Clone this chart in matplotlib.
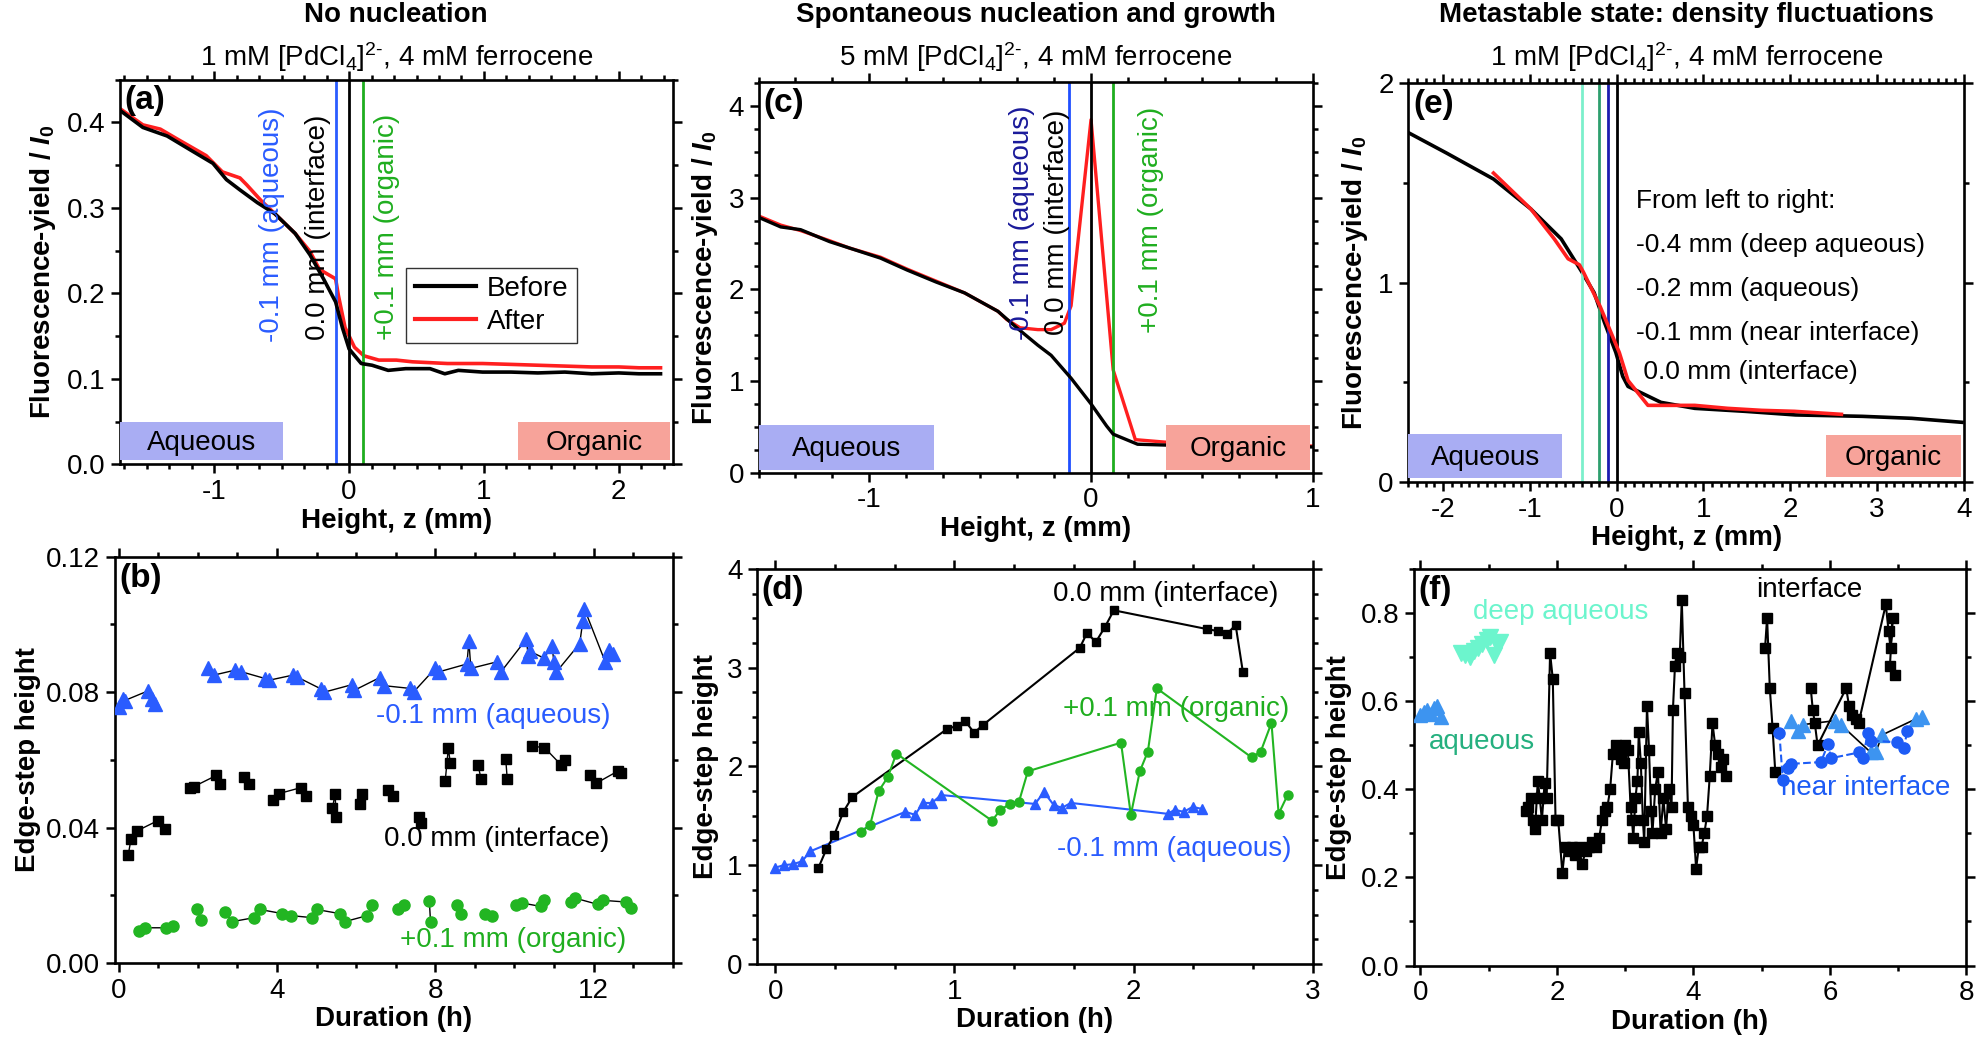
import matplotlib
matplotlib.use("Agg")
import matplotlib.pyplot as plt
import numpy as np
from matplotlib.ticker import MultipleLocator, AutoMinorLocator
from matplotlib.patches import Rectangle

plt.rcParams['font.family'] = ['Liberation Sans', 'DejaVu Sans']
plt.rcParams['mathtext.fontset'] = 'custom'
plt.rcParams['mathtext.rm'] = 'Liberation Sans'
plt.rcParams['mathtext.it'] = 'Liberation Sans:italic'
plt.rcParams['mathtext.bf'] = 'Liberation Sans:bold'
plt.rcParams['mathtext.bfit'] = 'Liberation Sans:bold:italic'
plt.rcParams['axes.unicode_minus'] = False

# ---- (a) no nucleation, profiles
a_z_before = [-1.70, -1.53, -1.35, -1.17, -1.01, -0.91, -0.81, -0.68, -0.55, -0.40, -0.29, -0.19, -0.10, -0.05,
              0.00, 0.09, 0.17, 0.29, 0.42, 0.60, 0.71, 0.81, 0.99, 1.2, 1.4, 1.6, 1.8, 2.0, 2.15, 2.31]
a_y_before = [0.414, 0.394, 0.384, 0.367, 0.352, 0.333, 0.321, 0.306, 0.293, 0.270, 0.245, 0.217, 0.190, 0.160,
              0.135, 0.118, 0.116, 0.110, 0.112, 0.112, 0.106, 0.110, 0.108, 0.108, 0.107, 0.108, 0.106, 0.107, 0.106, 0.106]
a_z_after = [-1.70, -1.53, -1.40, -1.27, -1.06, -0.94, -0.81, -0.76, -0.65, -0.55, -0.40, -0.29, -0.22, -0.10, -0.08,
             -0.03, 0.04, 0.11, 0.22, 0.35, 0.47, 0.73, 0.99, 1.2, 1.4, 1.6, 1.8, 2.0, 2.15, 2.31]
a_y_after = [0.416, 0.397, 0.392, 0.380, 0.361, 0.342, 0.335, 0.327, 0.308, 0.293, 0.270, 0.249, 0.228, 0.217, 0.198,
             0.160, 0.137, 0.127, 0.122, 0.122, 0.120, 0.118, 0.118, 0.117, 0.116, 0.115, 0.114, 0.114, 0.113, 0.113]

# ---- (b) edge-step height vs time
b_aq_t = [0.0, 0.1, 0.15, 0.75, 0.85, 0.92, 2.25, 2.4, 2.95, 3.1, 3.7, 3.8, 4.4, 4.5, 5.1, 5.2, 5.9, 5.95, 6.6, 6.7,
          7.35, 7.45, 8.0, 8.1, 8.8, 8.85, 8.9, 9.55, 9.65, 10.3, 10.35, 10.4, 10.75, 10.95, 11.0, 11.05, 11.65,
          11.73, 11.77, 12.3, 12.4, 12.5]
b_aq_y = [0.0755, 0.078, 0.0775, 0.0804, 0.0780, 0.0765, 0.087, 0.085, 0.0865, 0.0860, 0.084, 0.0835, 0.085, 0.0845,
          0.081, 0.080, 0.0822, 0.0805, 0.0843, 0.0819, 0.0811, 0.0800, 0.087, 0.0860, 0.0883, 0.095, 0.0870, 0.0889,
          0.0858, 0.0956, 0.0908, 0.092, 0.090, 0.0937, 0.0888, 0.0858, 0.0943, 0.101, 0.1046, 0.0888, 0.0925, 0.0913]
b_int_t = [0.24, 0.31, 0.46, 0.98, 1.16, 1.81, 1.9, 2.47, 2.56, 3.17, 3.3, 3.91, 4.04, 4.61, 4.74, 5.4, 5.47, 5.49,
           6.1, 6.15, 6.8, 6.93, 7.59, 7.63, 8.25, 8.33, 8.38, 9.08, 9.16, 9.78, 9.82, 10.45, 10.76, 11.18, 11.27,
           11.9, 12.07, 12.62, 12.7]
b_int_y = [0.0319, 0.0366, 0.039, 0.042, 0.0396, 0.0518, 0.0521, 0.0554, 0.053, 0.0548, 0.053, 0.0481, 0.050,
           0.0518, 0.0493, 0.0457, 0.050, 0.0432, 0.0469, 0.050, 0.0512, 0.0493, 0.0432, 0.0414, 0.0536, 0.0634,
           0.0591, 0.0585, 0.0542, 0.0603, 0.0542, 0.064, 0.0636, 0.0585, 0.0598, 0.0555, 0.0531, 0.0567, 0.0561]
b_org_t = [0.5, 0.67, 1.2, 1.37, 1.99, 2.07, 2.69, 2.86, 3.43, 3.57, 4.13, 4.35, 4.88, 5.0, 5.58, 5.71, 6.28, 6.41,
           7.06, 7.2, 7.85, 7.88, 8.55, 8.64, 9.25, 9.43, 10.04, 10.2, 10.67, 10.76, 11.43, 11.52, 12.11, 12.24,
           12.83, 12.95]
b_org_y = [0.0095, 0.0104, 0.0104, 0.011, 0.0158, 0.0128, 0.0152, 0.0122, 0.0134, 0.0158, 0.0146, 0.014, 0.0134,
           0.0158, 0.0146, 0.0122, 0.014, 0.0171, 0.0158, 0.0171, 0.0183, 0.0122, 0.0171, 0.0146, 0.0146, 0.014,
           0.0171, 0.0177, 0.0167, 0.0185, 0.018, 0.0192, 0.0173, 0.0185, 0.018, 0.0161]

# ---- (c) spontaneous nucleation, profiles
c_z_before = [-1.5, -1.40, -1.31, -1.18, -1.09, -0.95, -0.83, -0.70, -0.57, -0.42, -0.33, -0.24, -0.18, -0.09,
              0.0, 0.07, 0.10, 0.21, 0.35, 0.6, 0.8, 1.0]
c_y_before = [2.785, 2.68, 2.65, 2.52, 2.45, 2.34, 2.21, 2.08, 1.96, 1.76, 1.57, 1.39, 1.28, 1.03,
              0.75, 0.51, 0.42, 0.31, 0.30, 0.30, 0.29, 0.28]
c_z_after = [-1.5, -1.40, -1.31, -1.18, -1.09, -0.95, -0.83, -0.70, -0.57, -0.42, -0.38, -0.32, -0.24, -0.18,
             -0.12, -0.09, 0.0, 0.1, 0.2, 0.35, 0.6, 0.8, 1.0]
c_y_after = [2.80, 2.70, 2.64, 2.53, 2.45, 2.35, 2.22, 2.09, 1.96, 1.76, 1.67, 1.58, 1.56, 1.56,
             1.63, 1.82, 3.85, 1.12, 0.36, 0.33, 0.31, 0.30, 0.29]

# ---- (d) edge-step height vs time
d_int_t = [0.24, 0.285, 0.33, 0.38, 0.43, 0.96, 1.015, 1.06, 1.11, 1.16, 1.70, 1.74, 1.79, 1.84, 1.89,
           2.41, 2.47, 2.52, 2.57, 2.61]
d_int_y = [0.97, 1.16, 1.31, 1.54, 1.69, 2.38, 2.41, 2.46, 2.34, 2.42, 3.20, 3.35, 3.26, 3.41, 3.58,
           3.39, 3.37, 3.34, 3.43, 2.96]
d_org_t = [0.48, 0.53, 0.577, 0.628, 0.676, 1.21, 1.257, 1.31, 1.36, 1.41, 1.93, 1.985, 2.035, 2.08, 2.13,
           2.66, 2.71, 2.77, 2.81, 2.86]
d_org_y = [1.34, 1.41, 1.75, 1.89, 2.13, 1.45, 1.56, 1.62, 1.64, 1.95, 2.24, 1.51, 1.95, 2.15, 2.79,
           2.09, 2.15, 2.44, 1.52, 1.71]
d_aq_t = [0.0, 0.047, 0.10, 0.15, 0.195, 0.726, 0.78, 0.825, 0.875, 0.925, 1.45, 1.50, 1.554, 1.60, 1.65,
          2.19, 2.23, 2.28, 2.33, 2.38]
d_aq_y = [0.975, 1.0, 1.01, 1.04, 1.14, 1.54, 1.51, 1.63, 1.63, 1.71, 1.62, 1.74, 1.61, 1.58, 1.63,
          1.52, 1.56, 1.54, 1.59, 1.57]

# ---- (e) metastable, profiles
e_z_before = [-2.39, -1.96, -1.42, -0.99, -0.64, -0.41, -0.26, -0.14, -0.01, 0.07, 0.13, 0.32, 0.51, 0.90,
              1.48, 2.06, 2.83, 3.40, 3.98]
e_y_before = [1.75, 1.65, 1.52, 1.37, 1.22, 1.06, 0.95, 0.80, 0.65, 0.53, 0.48, 0.44, 0.40, 0.37,
              0.355, 0.337, 0.33, 0.32, 0.30]
e_z_after = [-1.42, -0.99, -0.72, -0.56, -0.43, -0.38, -0.19, 0.03, 0.13, 0.36, 0.59, 0.90, 1.28, 1.67, 2.05, 2.59]
e_y_after = [1.55, 1.37, 1.22, 1.12, 1.09, 1.05, 0.88, 0.65, 0.51, 0.385, 0.385, 0.385, 0.37, 0.36, 0.355, 0.34]

# ---- (f) edge-step height vs time
f_aq_t = [0.0, 0.05, 0.1, 0.15, 0.2, 0.25, 0.3]
f_aq_y = [0.57, 0.575, 0.58, 0.572, 0.585, 0.59, 0.565]
f_deep_t = [0.6, 0.65, 0.72, 0.78, 0.85, 0.9, 0.97, 1.02, 1.08, 1.12, 1.16]
f_deep_y = [0.71, 0.705, 0.70, 0.715, 0.72, 0.73, 0.74, 0.745, 0.705, 0.73, 0.735]
f_int_t = [1.55, 1.58, 1.62, 1.65, 1.68, 1.72, 1.75, 1.78, 1.82, 1.85, 1.90, 1.94, 1.98, 2.02, 2.08, 2.12, 2.17,
           2.22, 2.27, 2.32, 2.37, 2.42, 2.47, 2.52, 2.57, 2.62, 2.66, 2.70, 2.74, 2.78, 2.82, 2.86, 2.90, 2.94,
           2.98, 3.00, 3.04, 3.08, 3.10, 3.12, 3.15, 3.18, 3.20, 3.23, 3.26, 3.28, 3.32, 3.35, 3.38, 3.40, 3.44,
           3.48, 3.52, 3.56, 3.60, 3.64, 3.68, 3.70, 3.73, 3.76, 3.80, 3.83, 3.87, 3.92, 3.96, 4.00, 4.04, 4.08,
           4.12, 4.16, 4.20, 4.24, 4.28, 4.32, 4.36, 4.40, 4.44, 4.48,
           5.05, 5.08, 5.12, 5.16, 5.20, 5.72, 5.75, 5.78, 5.82, 6.24, 6.28, 6.32, 6.38, 6.42, 6.82, 6.86, 6.89,
           6.92, 6.88, 6.95]
f_int_y = [0.35, 0.36, 0.38, 0.33, 0.31, 0.42, 0.38, 0.33, 0.415, 0.38, 0.71, 0.65, 0.33, 0.33, 0.21, 0.27, 0.26,
           0.27, 0.25, 0.27, 0.23, 0.26, 0.27, 0.28, 0.27, 0.29, 0.33, 0.35, 0.36, 0.40, 0.48, 0.50, 0.49, 0.47,
           0.46, 0.50, 0.49, 0.36, 0.33, 0.29, 0.38, 0.42, 0.53, 0.46, 0.33, 0.28, 0.59, 0.49, 0.35, 0.30, 0.40,
           0.44, 0.30, 0.38, 0.31, 0.40, 0.36, 0.58, 0.68, 0.71, 0.70, 0.83, 0.62, 0.36, 0.34, 0.32, 0.22, 0.27,
           0.27, 0.30, 0.34, 0.43, 0.55, 0.50, 0.48, 0.45, 0.47, 0.43,
           0.72, 0.79, 0.63, 0.54, 0.44, 0.63, 0.58, 0.55, 0.50, 0.63, 0.59, 0.57, 0.56, 0.55, 0.82, 0.76, 0.72,
           0.79, 0.68, 0.66]
f_near_t = [5.26, 5.31, 5.39, 5.43, 5.87, 5.97, 6.02, 6.43, 6.48, 6.56, 6.60, 6.99, 7.09, 7.13]
f_near_y = [0.529, 0.422, 0.449, 0.458, 0.462, 0.502, 0.471, 0.484, 0.471, 0.529, 0.511, 0.507, 0.493, 0.533]
f_aq2_t = [5.43, 5.53, 5.60, 6.07, 6.16, 6.60, 6.67, 6.77, 7.26, 7.35]
f_aq2_y = [0.556, 0.533, 0.547, 0.556, 0.547, 0.484, 0.484, 0.524, 0.56, 0.564]

BLUE = '#2a5cff'
GREEN = '#1fae1f'
RED = '#ff1f1f'
AQ_BOX = '#a9adf3'
ORG_BOX = '#f7a39a'
FS = 20


def style_axes(ax):
    for s in ax.spines.values():
        s.set_linewidth(1.9)
    ax.tick_params(which='both', direction='out', top=True, right=True,
                   labeltop=False, labelright=False, width=1.8, labelsize=FS, pad=4)
    ax.tick_params(which='major', length=6.5)
    ax.tick_params(which='minor', length=3.5)


def region_box(ax, x0, x1, y0, y1, color, label):
    ax.add_patch(Rectangle((x0, y0), x1 - x0, y1 - y0, transform=ax.transAxes,
                           facecolor=color, edgecolor='none', zorder=5))
    ax.text((x0 + x1) / 2, (y0 + y1) / 2 - 0.005, label, transform=ax.transAxes,
            ha='center', va='center', fontsize=FS, zorder=6)


def panel_label(ax, s):
    ax.text(0.008, 0.985, s, transform=ax.transAxes, ha='left', va='top',
            fontsize=24, fontweight='bold', zorder=7)


def split_runs(t, y, gap):
    t = np.asarray(t)
    y = np.asarray(y)
    cut = np.where(np.abs(np.diff(t)) > gap)[0] + 1
    return zip(np.split(t, cut), np.split(y, cut))


YLAB_FL = 'Fluorescence-yield / $\\mathbfit{I}_\\mathbf{0}$'

fig = plt.figure(figsize=(19.79, 10.52), dpi=100)
ax_a = fig.add_axes([0.0606, 0.5585, 0.2793, 0.3659])
ax_b = fig.add_axes([0.0580, 0.0846, 0.2819, 0.3863])
ax_c = fig.add_axes([0.3833, 0.5507, 0.2800, 0.3713])
ax_d = fig.add_axes([0.3827, 0.0837, 0.2806, 0.3756])
ax_e = fig.add_axes([0.7117, 0.5417, 0.2806, 0.3791])
ax_f = fig.add_axes([0.7143, 0.0822, 0.2793, 0.3767])

# ---------------- (a)
ax = ax_a
ax.plot(a_z_before, a_y_before, color='k', lw=2.6, label='Before', zorder=3)
ax.plot(a_z_after, a_y_after, color=RED, lw=2.6, label='After', zorder=2)
ax.axvline(-0.1, color=BLUE, lw=2)
ax.axvline(0.0, color='k', lw=2)
ax.axvline(0.1, color=GREEN, lw=2)
ax.text(-0.57, 0.143, '-0.1 mm (aqueous)', rotation=90, ha='center', va='bottom', color=BLUE, fontsize=FS)
ax.text(-0.23, 0.146, '0.0 mm (interface)', rotation=90, ha='center', va='bottom', color='k', fontsize=FS)
ax.text(0.28, 0.145, '+0.1 mm (organic)', rotation=90, ha='center', va='bottom', color=GREEN, fontsize=FS)
ax.set_xlim(-1.7, 2.4)
ax.set_ylim(0, 0.45)
ax.xaxis.set_major_locator(MultipleLocator(1))
ax.xaxis.set_minor_locator(AutoMinorLocator(6))
ax.yaxis.set_major_locator(MultipleLocator(0.1))
ax.yaxis.set_minor_locator(MultipleLocator(0.05))
ax.yaxis.set_major_formatter(matplotlib.ticker.FormatStrFormatter('%.1f'))
leg = ax.legend(loc='upper left', bbox_to_anchor=(0.518, 0.511), fontsize=FS, frameon=True, fancybox=False,
                borderaxespad=0, handlelength=2.2, borderpad=0.3, labelspacing=0.25, handletextpad=0.4)
leg.get_frame().set_edgecolor('k')
leg.get_frame().set_linewidth(1.0)
for ln in leg.get_lines():
    ln.set_linewidth(3)
region_box(ax, 0.0, 0.295, 0.012, 0.11, AQ_BOX, 'Aqueous')
region_box(ax, 0.72, 0.995, 0.012, 0.11, ORG_BOX, 'Organic')
panel_label(ax, '(a)')
ax.set_xlabel('Height, z (mm)', fontsize=FS, fontweight='bold', labelpad=2)
ax.set_ylabel(YLAB_FL, fontsize=FS, fontweight='bold', labelpad=6)
style_axes(ax)

# ---------------- (b)
ax = ax_b
for tt, yy in split_runs(b_aq_t, b_aq_y, 0.8):
    ax.plot(tt, yy, color='k', lw=1, zorder=2)
for tt, yy in split_runs(b_int_t, b_int_y, 0.6):
    ax.plot(tt, yy, color='k', lw=1, zorder=2)
for tt, yy in split_runs(b_org_t, b_org_y, 0.6):
    ax.plot(tt, yy, color='k', lw=1, zorder=2)
ax.plot(b_aq_t, b_aq_y, '^', color=BLUE, ms=10, mec=BLUE, lw=0, zorder=3)
ax.plot(b_int_t, b_int_y, 's', color='k', ms=7, lw=0, zorder=3)
ax.plot(b_org_t, b_org_y, 'o', color='#22b522', ms=8, lw=0, zorder=3)
ax.text(6.5, 0.073, '-0.1 mm (aqueous)', color=BLUE, fontsize=FS, ha='left', va='center')
ax.text(6.7, 0.0366, '0.0 mm (interface)', color='k', fontsize=FS, ha='left', va='center')
ax.text(7.1, 0.0067, '+0.1 mm (organic)', color=GREEN, fontsize=FS, ha='left', va='center')
ax.set_xlim(-0.1, 14)
ax.set_ylim(0, 0.12)
ax.xaxis.set_major_locator(MultipleLocator(4))
ax.xaxis.set_minor_locator(MultipleLocator(1))
ax.yaxis.set_major_locator(MultipleLocator(0.04))
ax.yaxis.set_minor_locator(MultipleLocator(0.02))
ax.yaxis.set_major_formatter(matplotlib.ticker.FormatStrFormatter('%.2f'))
panel_label(ax, '(b)')
ax.set_xlabel('Duration (h)', fontsize=FS, fontweight='bold', labelpad=2)
ax.set_ylabel('Edge-step height', fontsize=FS, fontweight='bold', labelpad=4)
style_axes(ax)

# ---------------- (c)
ax = ax_c
ax.plot(c_z_before, c_y_before, color='k', lw=2.4, zorder=3)
ax.plot(c_z_after, c_y_after, color=RED, lw=2.4, zorder=2)
ax.axvline(-0.1, color='#1f4fff', lw=2)
ax.axvline(0.0, color='k', lw=2)
ax.axvline(0.1, color=GREEN, lw=2)
ax.text(-0.31, 1.45, '-0.1 mm (aqueous)', rotation=90, ha='center', va='bottom', color='#1a1a9a', fontsize=FS)
ax.text(-0.155, 1.50, '0.0 mm (interface)', rotation=90, ha='center', va='bottom', color='k', fontsize=FS)
ax.text(0.27, 1.52, '+0.1 mm (organic)', rotation=90, ha='center', va='bottom', color=GREEN, fontsize=FS)
ax.set_xlim(-1.5, 1.0)
ax.set_ylim(0, 4.26)
ax.xaxis.set_major_locator(MultipleLocator(1))
ax.xaxis.set_minor_locator(AutoMinorLocator(6))
ax.yaxis.set_major_locator(MultipleLocator(1))
ax.yaxis.set_minor_locator(MultipleLocator(0.25))
region_box(ax, 0.0, 0.317, 0.008, 0.122, AQ_BOX, 'Aqueous')
region_box(ax, 0.736, 0.995, 0.008, 0.122, ORG_BOX, 'Organic')
panel_label(ax, '(c)')
ax.set_xlabel('Height, z (mm)', fontsize=FS, fontweight='bold', labelpad=2)
ax.set_ylabel(YLAB_FL, fontsize=FS, fontweight='bold', labelpad=6)
style_axes(ax)

# ---------------- (d)
ax = ax_d
ax.plot(d_aq_t, d_aq_y, '-^', color=BLUE, lw=1.5, ms=7, zorder=3)
ax.plot(d_int_t, d_int_y, '-s', color='k', lw=1.5, ms=6, zorder=3)
ax.plot(d_org_t, d_org_y, '-o', color='#22b522', lw=1.5, ms=6.5, zorder=3)
ax.text(2.81, 3.75, '0.0 mm (interface)', color='k', fontsize=FS, ha='right', va='center')
ax.text(2.87, 2.58, '+0.1 mm (organic)', color=GREEN, fontsize=FS, ha='right', va='center')
ax.text(2.88, 1.16, '-0.1 mm (aqueous)', color=BLUE, fontsize=FS, ha='right', va='center')
ax.set_xlim(-0.1, 3.0)
ax.set_ylim(0, 4)
ax.xaxis.set_major_locator(MultipleLocator(1))
ax.xaxis.set_minor_locator(AutoMinorLocator(3))
ax.yaxis.set_major_locator(MultipleLocator(1))
ax.yaxis.set_minor_locator(MultipleLocator(0.25))
panel_label(ax, '(d)')
ax.set_xlabel('Duration (h)', fontsize=FS, fontweight='bold', labelpad=2)
ax.set_ylabel('Edge-step height', fontsize=FS, fontweight='bold', labelpad=6)
style_axes(ax)

# ---------------- (e)
ax = ax_e
ax.plot(e_z_before, e_y_before, color='k', lw=2.6, zorder=2)
ax.plot(e_z_after, e_y_after, color=RED, lw=2.6, zorder=3)
ax.axvline(-0.4, color='#7cf0cc', lw=2)
ax.axvline(-0.2, color='#2e9f6e', lw=2)
ax.axvline(-0.1, color='#1c1cb0', lw=2)
ax.axvline(0.0, color='k', lw=2)
e_notes = ['From left to right:', '-0.4 mm (deep aqueous)', '-0.2 mm (aqueous)',
           '-0.1 mm (near interface)', ' 0.0 mm (interface)']
e_note_y = [1.41, 1.19, 0.97, 0.75, 0.55]
for s, yv in zip(e_notes, e_note_y):
    ax.text(0.22, yv, s, fontsize=FS - 1, ha='left', va='center', color='k')
ax.set_xlim(-2.4, 4.0)
ax.set_ylim(0, 2)
ax.xaxis.set_major_locator(MultipleLocator(1))
ax.xaxis.set_minor_locator(AutoMinorLocator(10))
ax.yaxis.set_major_locator(MultipleLocator(1))
ax.yaxis.set_minor_locator(MultipleLocator(0.5))
region_box(ax, 0.0, 0.277, 0.01, 0.12, AQ_BOX, 'Aqueous')
region_box(ax, 0.752, 0.995, 0.012, 0.117, ORG_BOX, 'Organic')
panel_label(ax, '(e)')
ax.set_xlabel('Height, z (mm)', fontsize=FS, fontweight='bold', labelpad=2)
ax.set_ylabel(YLAB_FL, fontsize=FS, fontweight='bold', labelpad=6)
style_axes(ax)

# ---------------- (f)
ax = ax_f
ax.plot(f_aq_t, f_aq_y, '^', color='#3d94f0', ms=10, lw=0, zorder=3)
ax.plot(f_deep_t, f_deep_y, 'v', color='#6cf5cd', ms=12, lw=0, zorder=3)
for tt, yy in split_runs(f_int_t, f_int_y, 0.45):
    ax.plot(tt, yy, '-s', color='k', lw=1.5, ms=7, zorder=3)
ax.plot(f_aq2_t, f_aq2_y, '-', color='k', lw=1.2, zorder=3)
ax.plot(f_aq2_t, f_aq2_y, '^', color='#3d94f0', ms=10, lw=0, zorder=4)
ax.plot(f_near_t, f_near_y, '--o', color='#1d5cf5', lw=1.5, ms=8, zorder=4)
ax.text(0.77, 0.803, 'deep aqueous', color='#6cf5cd', fontsize=FS, ha='left', va='center')
ax.text(0.12, 0.508, 'aqueous', color='#25b07f', fontsize=FS, ha='left', va='center')
ax.text(4.92, 0.853, 'interface', color='k', fontsize=FS, ha='left', va='center')
ax.text(5.29, 0.404, 'near interface', color='#1d5cf5', fontsize=FS, ha='left', va='center')
ax.set_xlim(-0.1, 8)
ax.set_ylim(0, 0.9)
ax.xaxis.set_major_locator(MultipleLocator(2))
ax.xaxis.set_minor_locator(MultipleLocator(1))
ax.yaxis.set_major_locator(MultipleLocator(0.2))
ax.yaxis.set_minor_locator(MultipleLocator(0.1))
ax.yaxis.set_major_formatter(matplotlib.ticker.FormatStrFormatter('%.1f'))
panel_label(ax, '(f)')
ax.set_xlabel('Duration (h)', fontsize=FS, fontweight='bold', labelpad=2)
ax.set_ylabel('Edge-step height', fontsize=FS, fontweight='bold', labelpad=6)
style_axes(ax)

# ---------------- column titles
titles = ['No nucleation', 'Spontaneous nucleation and growth', 'Metastable state: density fluctuations']
subtitles = ['1 mM [PdCl$_4$]$^{2\\text{-}}$, 4 mM ferrocene',
             '5 mM [PdCl$_4$]$^{2\\text{-}}$, 4 mM ferrocene',
             '1 mM [PdCl$_4$]$^{2\\text{-}}$, 4 mM ferrocene']
for axx, ttl, sub in zip([ax_a, ax_c, ax_e], titles, subtitles):
    bb = axx.get_position()
    xc = (bb.x0 + bb.x1) / 2
    fig.text(xc, 0.986, ttl, ha='center', va='center', fontsize=FS, fontweight='bold')
    fig.text(xc, 0.946, sub, ha='center', va='center', fontsize=FS)

fig.savefig('out.png', dpi=100)
